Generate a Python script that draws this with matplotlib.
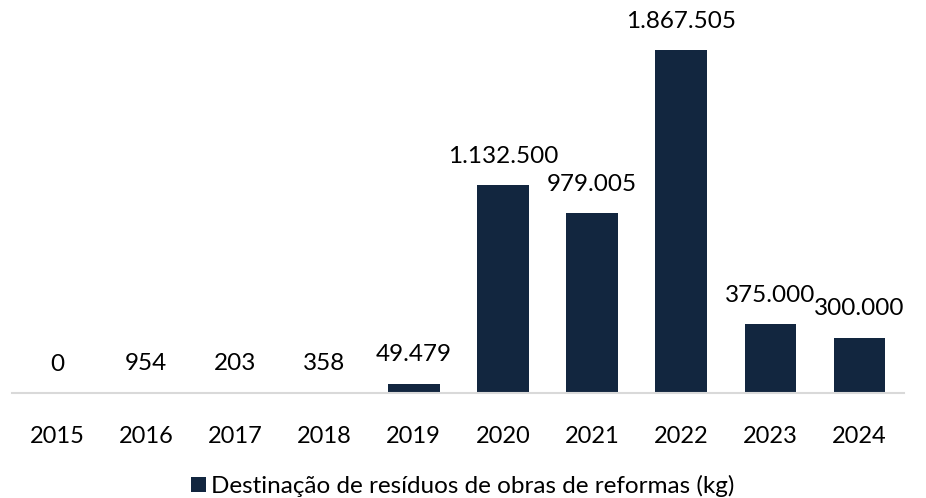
import matplotlib
matplotlib.use('Agg')
import matplotlib.pyplot as plt
from matplotlib.patches import Patch

plt.rcParams['font.family'] = ['Lato', 'DejaVu Sans']

# dados
anos = ['2015', '2016', '2017', '2018', '2019', '2020', '2021', '2022', '2023', '2024']
residuos_kg = [0, 954, 203, 358, 49479, 1132500, 979005, 1867505, 375000, 300000]
serie_nome = 'Destinação de resíduos de obras de reformas (kg)'

COR_BARRA = '#12263F'
COR_EIXO = '#D9D9D9'


def fmt_br(v):
    return f'{v:,}'.replace(',', '.')


fig = plt.figure(figsize=(9.26, 4.98), dpi=100)
fig.patch.set_facecolor('white')
ax = fig.add_axes([0.0134, 0.2108, 0.963, 0.779])

x = range(len(anos))
ax.bar(x, residuos_kg, width=0.58, color=COR_BARRA, zorder=2)

ax.set_xlim(-0.5, len(anos) - 0.5)
ax.set_ylim(0, 2.1125e6)

# rótulos de valor
for i, v in enumerate(residuos_kg):
    ax.annotate(fmt_br(v), xy=(i, v), xytext=(0, 29), textcoords='offset pixels',
                ha='center', va='center', fontsize=17.5, color='black')

ax.set_xticks(list(x))
ax.set_xticklabels(anos, fontsize=17)
ax.tick_params(axis='x', length=0, pad=24)
ax.set_yticks([])
for s in ['top', 'right', 'left']:
    ax.spines[s].set_visible(False)
ax.spines['bottom'].set_color(COR_EIXO)
ax.spines['bottom'].set_linewidth(1.5)

fig.legend(handles=[Patch(facecolor=COR_BARRA, label=serie_nome)],
           loc='center', bbox_to_anchor=(0.5, 0.024), frameon=False,
           fontsize=17.5, handlelength=0.62, handleheight=0.62,
           handletextpad=0.2, borderpad=0)

fig.savefig('out.png', dpi=100, facecolor='white')
plt.close(fig)
